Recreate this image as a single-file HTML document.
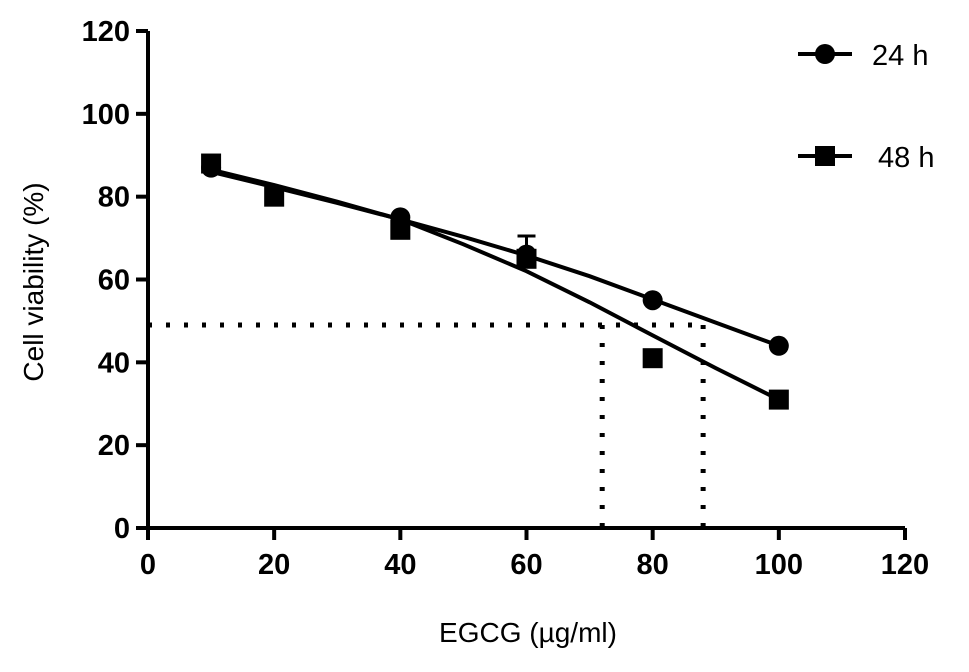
<!DOCTYPE html>
<html><head><meta charset="utf-8"><style>
body{margin:0;background:#fff;}
svg{display:block;font-family:"Liberation Sans",Arial,sans-serif;}
</style></head><body>
<svg id="chart" width="969" height="672" viewBox="0 0 969 672"></svg>
<script>
const xTicks=[0,20,40,60,80,100,120];
const yTicks=[0,20,40,60,80,100,120];
const x24=[10,40,60,80,100];
const y24=[87,75,66,55,44];
const err24=[0,0,4.5,0,0];
const x48=[10,20,40,60,80,100];
const y48=[88,80,72,65,41,31];
const fitX=[10,20,30,40,50,60,70,80,90,100];
const fit24=[86,82.3,78.5,74.5,70.3,65.8,60.8,55.2,49.6,44];
const fit48=[86.5,82.8,78.8,74.5,68.5,62,54.5,46.5,38.6,31];
const ic50=[72,88];
const halfLine=49;
const svg=document.getElementById('chart');
const NS='http://www.w3.org/2000/svg';
const X=v=>148+v*(905-148)/120;
const Y=v=>528-v*(528-31)/120;
function mk(t,a,p){const e=document.createElementNS(NS,t);for(const k in a)e.setAttribute(k,a[k]);(p||svg).appendChild(e);return e;}
let e;
e=mk('line',{x1:X(0),y1:Y(0),x2:X(120),y2:Y(0),stroke:'#000','stroke-width':4});

e=mk('line',{x1:X(0),y1:Y(0)+2,x2:X(0),y2:Y(120),stroke:'#000','stroke-width':4});

xTicks.forEach(t=>{
 e=mk('line',{x1:X(t),y1:Y(0),x2:X(t),y2:Y(0)+12,stroke:'#000','stroke-width':4});
 
 e=mk('text',{x:X(t),y:Y(0)+46,'text-anchor':'middle','font-size':29,'font-weight':'bold'});e.textContent=t;
 
});
yTicks.forEach(t=>{
 e=mk('line',{x1:X(0)-12,y1:Y(t),x2:X(0),y2:Y(t),stroke:'#000','stroke-width':4});
 
 e=mk('text',{x:X(0)-18,y:Y(t)+10,'text-anchor':'end','font-size':29,'font-weight':'bold'});e.textContent=t;
 
});
e=mk('text',{x:528,y:642,'text-anchor':'middle','font-size':28});e.textContent='EGCG (µg/ml)';

e=mk('text',{x:0,y:0,'text-anchor':'middle','font-size':28,transform:'translate(43,282) rotate(-90)'});e.textContent='Cell viability (%)';

// dotted reference lines
e=mk('line',{x1:X(0),y1:Y(halfLine),x2:X(ic50[1]),y2:Y(halfLine),stroke:'#000','stroke-width':5,'stroke-dasharray':'4 14'});

ic50.forEach(v=>{
 e=mk('line',{x1:X(v),y1:Y(halfLine),x2:X(v),y2:Y(0),stroke:'#000','stroke-width':5,'stroke-dasharray':'4 14'});
 
});
// fits
e=mk('polyline',{points:fitX.map((x,i)=>X(x)+','+Y(fit24[i])).join(' '),fill:'none',stroke:'#000','stroke-width':4});

e=mk('polyline',{points:fitX.map((x,i)=>X(x)+','+Y(fit48[i])).join(' '),fill:'none',stroke:'#000','stroke-width':4});

// error bars
x24.forEach((x,i)=>{if(err24[i]>0){
 e=mk('line',{x1:X(x),y1:Y(y24[i]),x2:X(x),y2:Y(y24[i]+err24[i]),stroke:'#000','stroke-width':3});
 
 e=mk('line',{x1:X(x)-9,y1:Y(y24[i]+err24[i]),x2:X(x)+9,y2:Y(y24[i]+err24[i]),stroke:'#000','stroke-width':3});
 
}});
x48.forEach((x,i)=>{
 e=mk('rect',{x:X(x)-10,y:Y(y48[i])-10,width:20,height:20,fill:'#000'});
 
});
x24.forEach((x,i)=>{
 e=mk('circle',{cx:X(x),cy:Y(y24[i]),r:10,fill:'#000'});
 
});
// legend
e=mk('line',{x1:798,y1:54,x2:852,y2:54,stroke:'#000','stroke-width':4});

e=mk('circle',{cx:825,cy:54,r:10,fill:'#000'});

e=mk('text',{x:872,y:65,'font-size':29});e.textContent='24 h';

e=mk('line',{x1:798,y1:156,x2:852,y2:156,stroke:'#000','stroke-width':4});

e=mk('rect',{x:815,y:146,width:20,height:20,fill:'#000'});

e=mk('text',{x:878,y:167,'font-size':29});e.textContent='48 h';

</script>
</body></html>
